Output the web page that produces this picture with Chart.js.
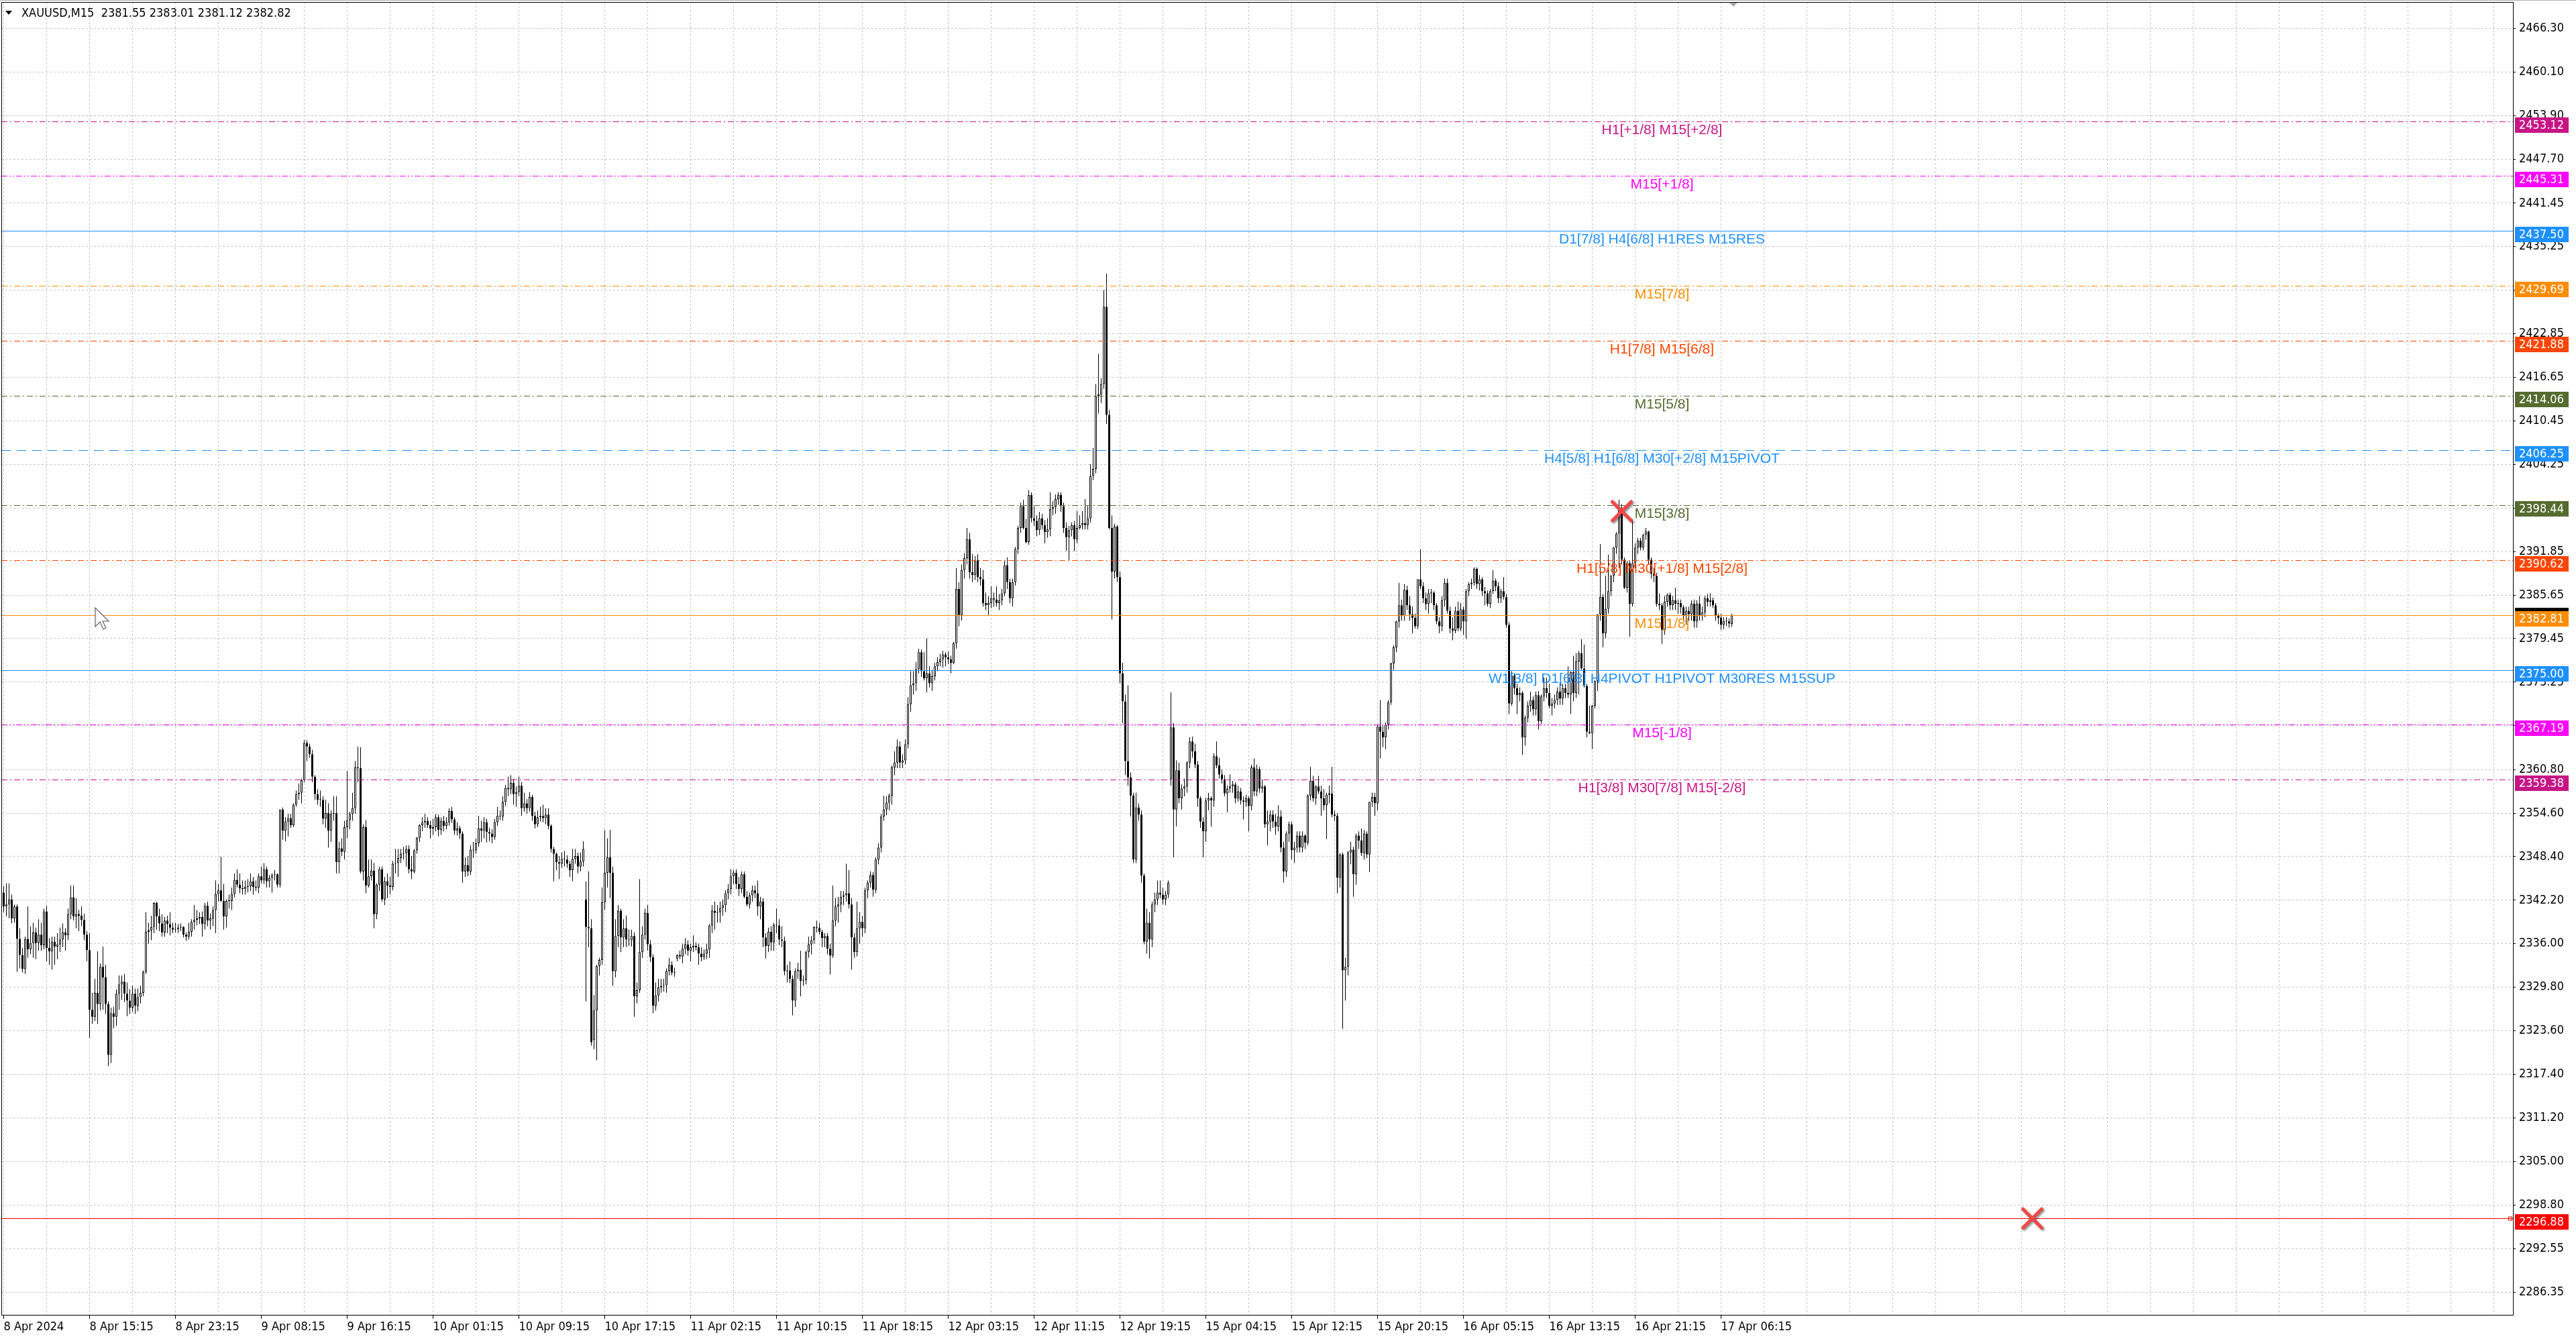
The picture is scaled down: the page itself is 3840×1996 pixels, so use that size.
<!DOCTYPE html>
<html><head><meta charset="utf-8">
<script src="https://cdn.jsdelivr.net/npm/chart.js@4.4.1/dist/chart.umd.min.js"></script>
<style>html,body{margin:0;padding:0;background:#fff;overflow:hidden}canvas{display:block}</style>
</head><body>
<canvas id="c" width="3840" height="1996"></canvas>
<script>
// ---------- DATA ----------
const headerText = 'XAUUSD,M15  2381.55 2383.01 2381.12 2382.82';
const xLabels = ['8 Apr 2024','8 Apr 15:15','8 Apr 23:15','9 Apr 08:15','9 Apr 16:15','10 Apr 01:15','10 Apr 09:15','10 Apr 17:15','11 Apr 02:15','11 Apr 10:15','11 Apr 18:15','12 Apr 03:15','12 Apr 11:15','12 Apr 19:15','15 Apr 04:15','15 Apr 12:15','15 Apr 20:15','16 Apr 05:15','16 Apr 13:15','16 Apr 21:15','17 Apr 06:15'];
const barsPerLabel = 32;
const yTickValues = [2466.30,2460.10,2453.90,2447.70,2441.45,2435.25,2429.05,2422.85,2416.65,2410.45,2404.25,2398.05,2391.85,2385.65,2379.45,2373.25,2367.05,2360.80,2354.60,2348.40,2342.20,2336.00,2329.80,2323.60,2317.40,2311.20,2305.00,2298.80,2292.55,2286.35];
const hiddenYTicks = [2429.05,2398.05,2367.05];

const opens = [
2343.3,2341.3,2341.6,2342.3,2339.6,2341.3,2336.7,2334.4,2332.4,2336.7,
2335.2,2336.1,2337.6,2336.1,2337.3,2335.8,2340.6,2335.4,2334.9,2336.3,
2335.6,2335.9,2336.6,2337.6,2337.2,2340.2,2342.6,2339.9,2340.2,2340.0,
2339.4,2337.3,2335.1,2326.6,2325.6,2329.0,2327.4,2332.7,2331.2,2327.4,
2320.2,2326.1,2325.6,2328.9,2330.2,2330.6,2328.9,2327.9,2326.9,2328.9,
2327.2,2328.4,2329.0,2332.0,2337.7,2337.9,2338.4,2341.8,2339.9,2338.9,
2337.6,2339.3,2338.8,2338.3,2338.0,2338.1,2338.3,2338.4,2337.3,2337.0,
2337.7,2339.1,2339.4,2339.6,2339.8,2338.8,2341.4,2339.3,2339.6,2340.8,
2343.1,2343.6,2342.1,2339.9,2342.1,2342.1,2343.1,2345.1,2344.4,2343.9,
2343.8,2344.1,2344.2,2344.9,2344.1,2344.0,2345.6,2345.0,2346.6,2344.9,
2345.4,2345.8,2345.9,2344.4,2355.1,2352.1,2353.4,2353.9,2352.9,2355.8,
2357.3,2357.5,2359.3,2364.6,2364.1,2363.0,2359.8,2357.3,2356.5,2356.5,
2353.8,2354.6,2352.1,2354.5,2354.6,2347.6,2349.6,2349.1,2352.6,2353.6,
2354.5,2355.3,2361.1,2361.0,2346.3,2352.6,2344.3,2345.6,2346.4,2340.2,
2344.4,2346.6,2342.3,2344.9,2344.3,2344.1,2347.4,2347.5,2348.2,2348.8,
2348.9,2349.5,2346.6,2346.3,2349.3,2351.1,2352.9,2353.3,2353.5,2352.9,
2352.4,2352.6,2354.0,2352.2,2353.5,2352.8,2353.3,2354.9,2353.7,2352.1,
2352.4,2351.7,2346.3,2347.2,2346.3,2349.4,2349.3,2350.3,2352.4,2352.1,
2353.3,2351.9,2351.7,2351.2,2353.3,2354.2,2354.1,2356.2,2358.2,2358.0,
2358.9,2357.3,2357.6,2358.5,2355.3,2356.0,2355.3,2356.9,2354.2,2353.0,
2354.0,2354.2,2353.9,2354.4,2352.8,2349.5,2348.8,2347.6,2347.4,2348.1,
2348.0,2347.4,2346.5,2348.1,2348.5,2347.0,2347.7,2342.3,2338.4,2338.2,
2322.3,2326.5,2332.8,2333.7,2341.9,2346.1,2348.3,2346.1,2332.1,2337.1,
2340.7,2336.9,2338.2,2336.6,2336.5,2337.1,2328.5,2329.4,2334.8,2337.3,
2340.4,2335.9,2334.1,2327.2,2328.6,2329.8,2330.0,2330.1,2332.1,2333.0,
2331.9,2333.9,2334.4,2334.2,2335.3,2335.9,2335.0,2335.5,2335.7,2335.5,
2334.6,2334.1,2334.6,2335.2,2338.6,2340.7,2340.4,2340.5,2341.1,2341.5,
2343.2,2343.8,2345.6,2346.1,2344.5,2343.8,2345.9,2342.7,2341.6,2342.9,
2343.6,2343.2,2341.3,2342.0,2336.9,2335.7,2337.7,2336.2,2338.7,2338.6,
2336.6,2336.4,2332.1,2332.2,2331.0,2327.9,2332.1,2332.3,2330.7,2330.8,
2334.8,2335.9,2336.5,2338.4,2338.3,2337.7,2336.8,2337.1,2335.3,2334.3,
2339.3,2341.3,2341.6,2342.7,2342.9,2343.2,2341.6,2336.9,2334.8,2338.2,
2339.1,2338.2,2343.6,2344.7,2345.8,2343.7,2348.0,2349.7,2354.1,2355.1,
2356.1,2357.1,2361.1,2361.8,2364.1,2361.8,2362.1,2364.4,2370.1,2372.8,
2373.1,2375.1,2377.5,2374.8,2373.8,2374.5,2373.1,2374.1,2375.5,2376.1,
2376.5,2377.2,2376.8,2376.5,2376.0,2378.8,2386.5,2382.8,2389.2,2390.9,
2393.6,2388.9,2388.5,2390.6,2388.2,2387.9,2384.5,2384.2,2384.5,2385.2,
2385.0,2384.5,2384.9,2385.9,2389.9,2387.5,2385.2,2387.5,2392.2,2395.2,
2398.3,2395.2,2393.2,2399.9,2396.6,2396.2,2394.9,2396.6,2395.6,2394.6,
2395.0,2397.9,2398.2,2399.3,2399.9,2398.3,2395.2,2393.9,2394.9,2395.6,
2393.6,2395.2,2395.6,2395.9,2395.6,2396.6,2402.6,2403.6,2414.0,2414.2,
2415.7,2426.7,2411.3,2395.2,2389.0,2395.4,2388.2,2374.5,2370.5,2362.0,
2359.7,2357.1,2348.0,2355.4,2354.4,2345.7,2336.3,2339.0,2336.6,2341.6,
2342.3,2343.3,2343.0,2342.3,2343.0,2359.4,2366.8,2355.1,2360.7,2356.7,
2358.1,2358.4,2361.8,2364.8,2363.4,2361.5,2356.7,2353.4,2352.0,2356.4,
2356.7,2356.4,2362.7,2361.4,2360.1,2359.4,2357.4,2358.1,2358.4,2358.7,
2356.7,2357.7,2356.4,2356.2,2356.7,2355.6,2361.1,2357.7,2360.9,2358.1,
2358.4,2353.0,2353.4,2354.4,2353.4,2352.7,2354.1,2349.7,2346.3,2351.7,
2353.0,2349.3,2349.7,2351.4,2349.7,2351.4,2350.4,2357.1,2359.2,2356.7,
2358.4,2357.7,2356.7,2355.7,2357.2,2357.4,2354.4,2354.2,2345.4,2348.7,
2332.2,2332.7,2349.0,2349.4,2345.9,2351.4,2350.7,2348.9,2351.7,2348.7,
2356.2,2356.9,2356.0,2366.9,2366.2,2365.4,2367.2,2370.4,2375.9,2378.2,
2381.9,2384.2,2382.7,2386.4,2384.2,2382.9,2382.4,2381.2,2387.9,2386.9,
2385.2,2384.4,2385.9,2386.0,2384.2,2381.9,2381.2,2384.9,2387.4,2383.4,
2380.9,2380.6,2383.4,2380.9,2383.6,2381.9,2386.2,2387.2,2387.4,2389.4,
2387.2,2387.9,2386.2,2385.9,2384.4,2386.2,2387.7,2386.9,2385.2,2386.2,
2385.4,2381.4,2370.2,2374.2,2372.4,2371.4,2371.7,2365.4,2368.2,2369.9,
2370.7,2369.4,2371.4,2367.7,2371.2,2372.4,2371.7,2369.9,2370.2,2370.7,
2371.9,2370.9,2372.4,2371.7,2371.5,2374.7,2371.7,2376.2,2377.4,2375.2,
2372.7,2366.2,2366.0,2369.9,2373.4,2382.9,2385.4,2380.2,2383.7,2386.2,
2388.4,2392.4,2394.4,2397.7,2390.7,2386.7,2390.2,2384.4,2390.2,2392.4,
2393.4,2392.4,2394.2,2394.7,2390.7,2388.7,2388.4,2384.4,2384.2,2380.7,
2384.7,2385.7,2384.2,2384.9,2384.4,2384.5,2383.9,2382.7,2383.4,2382.9,
2384.4,2381.9,2384.4,2382.7,2383.2,2385.2,2384.7,2384.9,2384.2,2382.7,
2382.4,2381.4,2381.9,2381.9,2381.55];

const highs = [
2344.2,2344.6,2344.6,2343.0,2341.6,2341.6,2338.2,2335.4,2337.0,2341.3,
2338.5,2339.0,2338.3,2339.5,2339.0,2341.0,2341.4,2336.8,2337.0,2337.0,
2337.5,2338.3,2338.9,2338.2,2341.0,2344.3,2344.3,2342.5,2340.8,2341.3,
2340.3,2337.8,2337.5,2329.0,2331.0,2334.9,2333.2,2335.6,2333.0,2327.8,
2326.9,2327.0,2329.5,2331.5,2331.5,2331.7,2330.5,2329.5,2330.0,2329.6,
2329.6,2330.0,2332.2,2340.5,2339.0,2340.0,2341.9,2342.0,2341.0,2340.2,
2339.8,2340.0,2340.5,2339.0,2339.0,2338.8,2338.9,2338.5,2337.6,2339.0,
2339.5,2341.5,2340.8,2340.5,2340.6,2341.8,2342.0,2340.3,2341.3,2345.0,
2344.5,2348.4,2344.5,2342.3,2343.0,2344.0,2346.0,2346.6,2346.0,2345.0,
2345.0,2345.2,2346.0,2345.5,2345.0,2346.0,2347.0,2347.5,2347.0,2345.8,
2346.0,2346.5,2346.0,2355.1,2355.4,2354.0,2354.5,2354.5,2356.0,2357.8,
2358.8,2359.5,2365.0,2365.0,2364.5,2363.6,2360.0,2358.0,2357.8,2357.0,
2356.5,2356.0,2355.0,2357.0,2357.0,2350.5,2351.0,2353.5,2360.6,2354.8,
2357.5,2362.0,2364.1,2364.0,2353.0,2353.6,2348.0,2348.0,2347.5,2344.6,
2347.0,2347.0,2345.5,2346.0,2345.5,2347.8,2349.5,2349.5,2349.5,2349.8,
2350.0,2350.0,2348.5,2349.5,2351.2,2353.0,2354.0,2354.5,2354.0,2353.5,
2353.8,2354.5,2354.4,2354.0,2354.2,2354.0,2355.3,2355.5,2354.0,2353.3,
2352.8,2352.0,2348.3,2348.5,2350.0,2350.5,2351.0,2354.2,2353.5,2354.0,
2353.8,2352.5,2352.3,2353.8,2355.5,2355.0,2357.0,2358.6,2359.8,2360.0,
2359.5,2358.4,2359.8,2359.0,2357.5,2356.6,2357.6,2357.2,2354.8,2355.0,
2355.5,2355.8,2355.3,2355.3,2353.0,2349.8,2349.0,2348.5,2349.0,2349.2,
2348.6,2347.8,2349.5,2349.5,2349.0,2349.0,2350.6,2344.9,2346.3,2339.5,
2328.7,2333.0,2334.0,2344.0,2352.2,2351.0,2352.2,2347.0,2339.5,2341.5,
2341.0,2339.5,2340.0,2338.0,2338.0,2337.6,2330.5,2345.2,2338.5,2341.0,
2341.5,2336.5,2334.5,2330.5,2331.0,2331.0,2331.0,2332.5,2334.0,2333.5,
2332.6,2334.5,2335.0,2336.0,2336.8,2336.5,2336.0,2337.2,2336.2,2336.0,
2335.5,2335.2,2336.0,2338.8,2341.5,2342.0,2341.5,2342.0,2342.3,2343.6,
2344.5,2346.6,2346.5,2346.6,2345.5,2346.3,2346.3,2343.5,2343.3,2344.3,
2344.3,2345.0,2342.7,2342.5,2337.5,2338.3,2338.5,2339.0,2341.0,2339.5,
2338.5,2337.0,2333.0,2333.5,2331.5,2332.5,2333.3,2335.0,2331.5,2335.0,
2337.0,2337.1,2338.5,2339.3,2339.0,2338.0,2337.5,2337.5,2336.0,2344.3,
2342.5,2342.7,2343.5,2343.5,2347.4,2346.5,2342.5,2337.5,2342.0,2340.5,
2340.0,2344.0,2345.0,2346.3,2346.2,2348.3,2350.3,2354.5,2357.1,2357.0,
2357.4,2361.4,2363.4,2365.1,2364.8,2363.0,2365.1,2371.1,2374.8,2374.8,
2376.1,2378.0,2377.9,2377.5,2379.5,2375.5,2375.0,2376.0,2376.8,2377.3,
2377.7,2377.5,2377.6,2377.0,2379.0,2389.5,2387.5,2390.0,2391.6,2395.2,
2394.5,2391.5,2391.2,2391.5,2389.5,2389.2,2386.0,2385.5,2386.9,2386.0,
2386.9,2385.8,2386.5,2390.5,2391.0,2388.0,2388.0,2392.5,2395.5,2398.8,
2399.2,2396.5,2400.6,2400.3,2398.3,2397.0,2397.5,2397.2,2396.3,2396.6,
2400.3,2399.0,2400.0,2400.3,2400.3,2398.8,2396.0,2395.5,2396.0,2396.2,
2397.6,2397.0,2397.6,2399.3,2398.3,2404.3,2406.6,2415.7,2420.0,2416.5,
2429.1,2431.4,2412.0,2397.0,2395.8,2395.6,2389.0,2376.0,2371.5,2372.8,
2360.4,2357.5,2357.5,2356.0,2355.0,2346.0,2341.0,2340.5,2342.0,2343.3,
2345.0,2345.0,2344.0,2343.5,2345.0,2371.8,2367.4,2362.1,2361.8,2358.7,
2359.5,2362.0,2365.4,2365.5,2364.5,2362.0,2357.0,2354.0,2356.8,2357.5,
2357.0,2363.1,2364.8,2362.5,2360.8,2360.0,2358.5,2360.1,2359.2,2359.0,
2358.5,2358.2,2357.0,2357.2,2357.0,2361.5,2362.4,2361.5,2361.2,2359.4,
2358.6,2355.0,2355.0,2355.0,2354.5,2355.7,2355.0,2350.5,2352.0,2353.4,
2353.4,2350.5,2352.0,2352.0,2352.0,2351.6,2357.3,2361.2,2359.9,2358.6,
2359.9,2358.5,2358.0,2357.5,2358.5,2361.2,2355.0,2354.6,2348.9,2349.0,
2334.0,2349.2,2350.5,2349.8,2351.7,2352.0,2352.4,2352.2,2352.0,2356.2,
2357.5,2357.5,2367.2,2370.7,2367.0,2367.5,2370.7,2376.0,2378.5,2382.0,
2387.4,2385.0,2387.2,2387.0,2385.5,2384.0,2383.0,2387.9,2392.2,2387.5,
2386.0,2386.5,2386.5,2386.2,2384.5,2382.5,2385.5,2388.0,2388.0,2384.0,
2382.5,2384.0,2384.7,2384.5,2384.0,2386.5,2387.5,2388.0,2389.6,2389.6,
2388.5,2388.2,2386.8,2386.3,2386.5,2389.2,2388.0,2387.5,2386.5,2388.2,
2385.8,2381.8,2374.8,2374.5,2373.0,2372.5,2372.0,2368.5,2370.5,2371.9,
2371.2,2371.9,2372.0,2371.5,2373.9,2373.9,2373.0,2371.0,2371.5,2372.5,
2373.2,2373.0,2373.0,2375.5,2374.8,2377.0,2377.4,2377.7,2379.4,2378.6,
2373.0,2369.9,2370.0,2373.5,2382.9,2392.9,2385.8,2388.4,2391.4,2388.5,
2392.5,2394.6,2399.2,2398.6,2391.0,2390.5,2390.5,2396.4,2393.0,2393.8,
2393.8,2394.4,2395.2,2394.8,2391.0,2389.5,2388.8,2385.9,2384.5,2385.5,
2385.9,2386.0,2385.5,2386.7,2385.0,2385.0,2384.2,2384.0,2384.0,2384.9,
2385.0,2384.9,2385.5,2384.0,2385.5,2385.8,2385.9,2385.3,2384.5,2383.0,
2383.0,2382.5,2382.5,2382.3,2383.01];

const lows = [
2340.5,2339.9,2339.6,2338.9,2339.0,2332.0,2332.5,2331.9,2331.7,2334.0,
2334.5,2334.0,2333.8,2335.0,2335.0,2335.2,2333.5,2333.0,2332.3,2333.0,
2333.8,2334.8,2335.5,2335.0,2336.5,2339.5,2339.3,2338.2,2337.8,2338.5,
2336.5,2333.5,2322.6,2324.6,2325.0,2324.6,2326.5,2326.6,2326.0,2318.6,
2319.0,2324.0,2324.3,2326.6,2328.0,2327.7,2325.7,2326.0,2326.3,2326.0,
2326.4,2327.5,2328.5,2331.7,2336.0,2336.5,2337.5,2338.0,2337.8,2337.0,
2337.0,2337.5,2337.2,2337.5,2337.6,2337.5,2337.8,2336.9,2336.4,2336.6,
2337.0,2338.0,2338.6,2338.8,2337.0,2338.0,2338.5,2338.0,2338.5,2337.5,
2342.0,2342.0,2338.0,2338.3,2341.0,2340.8,2342.6,2344.0,2343.2,2343.0,
2343.0,2343.3,2343.5,2343.0,2343.5,2343.2,2344.6,2344.5,2344.0,2344.0,
2343.3,2345.0,2344.0,2344.0,2350.8,2350.6,2351.3,2352.5,2352.6,2355.5,
2356.5,2356.0,2359.0,2362.0,2362.5,2359.0,2356.5,2355.8,2355.5,2353.0,
2352.5,2349.7,2350.5,2353.5,2346.0,2346.0,2348.5,2348.0,2351.0,2352.3,
2353.5,2354.5,2359.0,2346.0,2345.0,2343.2,2344.0,2345.0,2338.2,2339.5,
2343.5,2342.0,2341.5,2342.5,2343.0,2343.6,2346.0,2345.5,2347.5,2348.0,
2347.0,2346.0,2345.2,2346.0,2348.8,2350.5,2352.0,2352.5,2352.5,2351.0,
2351.5,2352.0,2351.3,2351.5,2352.0,2352.3,2352.8,2353.2,2351.5,2351.4,
2350.9,2344.7,2345.5,2345.6,2345.8,2348.2,2348.8,2349.8,2350.5,2351.0,
2350.4,2350.6,2350.3,2350.8,2352.8,2353.6,2353.5,2355.6,2357.0,2357.3,
2355.8,2355.5,2357.0,2354.2,2354.8,2354.5,2354.8,2353.5,2352.4,2352.6,
2353.4,2353.3,2353.0,2352.3,2349.0,2344.9,2346.5,2345.2,2346.8,2347.0,
2346.8,2345.5,2344.9,2347.4,2346.0,2346.3,2347.0,2327.8,2335.5,2321.5,
2321.0,2319.4,2331.5,2333.0,2340.8,2344.0,2342.5,2330.0,2331.2,2335.5,
2334.8,2335.5,2335.5,2335.7,2335.6,2325.6,2327.5,2329.0,2334.0,2336.6,
2335.0,2333.4,2326.1,2326.5,2327.8,2329.0,2329.2,2329.0,2331.5,2331.5,
2331.3,2333.5,2333.8,2333.2,2334.5,2334.3,2333.5,2334.8,2335.0,2333.0,
2333.5,2333.7,2333.8,2334.0,2337.5,2338.0,2339.0,2339.0,2340.0,2340.5,
2342.3,2343.0,2344.5,2343.8,2342.8,2343.2,2342.5,2341.3,2341.0,2342.0,
2342.5,2340.0,2339.5,2335.5,2333.9,2334.8,2335.0,2335.0,2337.5,2335.8,
2335.5,2331.5,2330.5,2330.4,2325.8,2327.0,2331.0,2328.5,2330.0,2330.2,
2334.0,2334.5,2336.0,2337.6,2337.3,2335.5,2335.5,2334.5,2331.6,2334.0,
2338.5,2339.0,2340.5,2341.5,2342.0,2341.0,2332.3,2334.0,2334.2,2336.0,
2337.0,2337.5,2342.5,2344.0,2342.7,2343.2,2347.3,2349.0,2353.5,2354.3,
2355.0,2355.8,2360.0,2361.0,2361.0,2361.0,2361.5,2363.8,2369.0,2371.5,
2372.0,2374.5,2374.0,2373.5,2371.8,2372.5,2372.0,2373.5,2374.8,2375.5,
2375.3,2375.5,2375.8,2374.5,2375.8,2378.0,2381.2,2382.0,2388.0,2390.0,
2388.0,2387.5,2387.8,2387.5,2387.0,2384.0,2383.5,2382.8,2383.8,2384.0,
2384.0,2383.5,2384.2,2385.5,2386.5,2384.5,2384.0,2387.0,2391.5,2394.5,
2395.0,2393.0,2392.8,2396.0,2395.5,2394.0,2394.2,2395.0,2393.0,2393.8,
2394.0,2397.0,2397.2,2398.5,2397.5,2394.5,2391.9,2390.6,2394.0,2391.9,
2393.0,2395.0,2395.0,2395.0,2395.0,2396.0,2402.0,2403.0,2411.5,2413.0,
2415.0,2410.0,2395.0,2382.2,2388.0,2387.5,2373.1,2367.4,2360.0,2358.5,
2354.1,2347.5,2347.5,2353.5,2344.7,2335.9,2334.6,2333.9,2335.5,2340.5,
2341.5,2342.5,2341.6,2341.5,2342.5,2358.5,2348.3,2352.7,2356.0,2355.1,
2357.0,2357.5,2361.0,2362.5,2361.0,2355.5,2352.5,2348.3,2350.5,2355.0,
2352.7,2355.5,2361.0,2359.5,2358.8,2357.0,2354.7,2357.5,2357.5,2356.0,
2356.2,2355.8,2353.7,2355.5,2352.0,2355.0,2357.0,2357.0,2357.5,2357.5,
2352.5,2350.0,2352.0,2352.5,2351.5,2352.0,2349.0,2344.7,2345.5,2350.5,
2348.0,2347.5,2349.0,2349.0,2349.0,2349.5,2350.0,2356.4,2356.2,2355.8,
2357.3,2354.2,2355.0,2350.9,2356.0,2354.0,2353.5,2343.2,2344.0,2323.9,
2327.9,2331.5,2347.3,2342.7,2344.4,2349.5,2348.5,2348.0,2348.2,2346.2,
2355.5,2354.2,2355.0,2362.4,2364.0,2363.7,2366.5,2370.0,2375.0,2377.5,
2381.0,2382.0,2382.0,2383.5,2382.0,2380.2,2380.9,2380.8,2386.5,2384.5,
2383.5,2383.0,2384.5,2383.5,2381.5,2380.2,2380.5,2384.0,2383.0,2380.2,
2379.2,2380.2,2380.5,2380.5,2380.0,2379.4,2385.5,2386.5,2387.0,2386.5,
2386.3,2385.5,2384.2,2384.0,2383.8,2385.8,2386.2,2384.5,2384.5,2385.0,
2381.0,2368.7,2369.9,2371.5,2368.7,2370.5,2362.9,2364.2,2367.5,2369.0,
2368.5,2368.5,2366.5,2367.3,2370.5,2371.0,2369.5,2368.5,2369.5,2370.0,
2370.0,2370.0,2371.0,2371.0,2368.7,2370.5,2371.0,2371.5,2375.0,2372.5,
2365.4,2365.8,2363.7,2369.5,2372.0,2382.0,2378.2,2379.5,2383.0,2385.5,
2387.5,2391.5,2389.5,2390.0,2386.5,2386.0,2379.7,2384.0,2389.5,2391.5,
2392.0,2392.0,2393.5,2390.0,2388.0,2387.5,2384.0,2383.5,2378.7,2380.0,
2384.0,2383.5,2383.5,2383.5,2383.0,2383.0,2382.0,2381.4,2382.0,2382.0,
2381.0,2381.0,2382.0,2382.0,2382.5,2384.0,2384.0,2383.8,2382.0,2381.5,
2380.7,2380.8,2381.2,2381.0,2381.12];

const closes = [
2341.3,2341.6,2342.3,2339.6,2341.3,2336.7,2334.4,2332.4,2336.7,2335.2,
2336.1,2337.6,2336.1,2337.3,2335.8,2340.6,2335.4,2334.9,2336.3,2335.6,
2335.9,2336.6,2337.6,2337.2,2340.2,2342.6,2339.9,2340.2,2340.0,2339.4,
2337.3,2335.1,2326.6,2325.6,2329.0,2327.4,2332.7,2331.2,2327.4,2320.2,
2326.1,2325.6,2328.9,2330.2,2330.6,2328.9,2327.9,2326.9,2328.9,2327.2,
2328.4,2329.0,2332.0,2337.7,2337.9,2338.4,2341.8,2339.9,2338.9,2337.6,
2339.3,2338.8,2338.3,2338.0,2338.1,2338.3,2338.4,2337.3,2337.0,2337.7,
2339.1,2339.4,2339.6,2339.8,2338.8,2341.4,2339.3,2339.6,2340.8,2343.1,
2343.6,2342.1,2339.9,2342.1,2342.1,2343.1,2345.1,2344.4,2343.9,2343.8,
2344.1,2344.2,2344.9,2344.1,2344.0,2345.6,2345.0,2346.6,2344.9,2345.4,
2345.8,2345.9,2344.4,2355.1,2352.1,2353.4,2353.9,2352.9,2355.8,2357.3,
2357.5,2359.3,2364.6,2364.1,2363.0,2359.8,2357.3,2356.5,2356.5,2353.8,
2354.6,2352.1,2354.5,2354.6,2347.6,2349.6,2349.1,2352.6,2353.6,2354.5,
2355.3,2361.1,2361.0,2346.3,2352.6,2344.3,2345.6,2346.4,2340.2,2344.4,
2346.6,2342.3,2344.9,2344.3,2344.1,2347.4,2347.5,2348.2,2348.8,2348.9,
2349.5,2346.6,2346.3,2349.3,2351.1,2352.9,2353.3,2353.5,2352.9,2352.4,
2352.6,2354.0,2352.2,2353.5,2352.8,2353.3,2354.9,2353.7,2352.1,2352.4,
2351.7,2346.3,2347.2,2346.3,2349.4,2349.3,2350.3,2352.4,2352.1,2353.3,
2351.9,2351.7,2351.2,2353.3,2354.2,2354.1,2356.2,2358.2,2358.0,2358.9,
2357.3,2357.6,2358.5,2355.3,2356.0,2355.3,2356.9,2354.2,2353.0,2354.0,
2354.2,2353.9,2354.4,2352.8,2349.5,2348.8,2347.6,2347.4,2348.1,2348.0,
2347.4,2346.5,2348.1,2348.5,2347.0,2347.7,2349.5,2338.4,2338.2,2322.0,
2326.5,2332.8,2333.7,2341.9,2346.1,2348.3,2346.1,2332.1,2337.1,2340.7,
2336.9,2338.2,2336.6,2336.5,2337.1,2328.5,2329.4,2334.8,2337.3,2340.4,
2335.9,2334.1,2327.2,2328.6,2329.8,2330.0,2330.1,2332.1,2333.0,2331.9,
2331.9,2334.4,2334.2,2335.3,2335.9,2335.0,2335.5,2335.7,2335.5,2334.6,
2334.1,2334.6,2335.2,2338.6,2340.7,2340.4,2340.5,2341.1,2341.5,2343.2,
2343.8,2345.6,2346.1,2344.5,2343.8,2345.9,2342.7,2341.6,2342.9,2343.6,
2343.2,2341.3,2342.0,2336.9,2335.7,2337.7,2336.2,2338.7,2338.6,2336.6,
2336.4,2332.1,2332.2,2331.0,2327.9,2332.1,2332.3,2330.7,2330.8,2334.8,
2335.9,2336.5,2338.4,2338.3,2337.7,2336.8,2337.1,2335.3,2334.3,2339.3,
2341.3,2341.6,2342.7,2342.9,2343.2,2341.6,2336.9,2334.8,2338.2,2339.1,
2338.2,2343.6,2344.7,2345.8,2343.7,2348.0,2349.7,2354.1,2355.1,2356.1,
2357.1,2361.1,2361.8,2364.1,2361.8,2362.1,2364.4,2370.1,2372.8,2373.1,
2375.1,2377.5,2374.8,2373.8,2374.5,2373.1,2374.1,2375.5,2376.1,2376.5,
2377.2,2376.8,2376.5,2376.0,2378.8,2386.5,2382.8,2389.2,2390.9,2393.6,
2388.9,2388.5,2390.6,2388.2,2387.9,2384.5,2384.2,2384.5,2385.2,2385.0,
2384.5,2384.9,2385.9,2389.9,2387.5,2385.2,2387.5,2392.2,2395.2,2398.3,
2395.2,2393.2,2399.9,2396.6,2396.2,2394.9,2396.6,2395.6,2394.6,2395.0,
2397.9,2398.2,2399.3,2399.9,2398.3,2395.2,2393.9,2394.9,2395.6,2393.6,
2395.2,2395.6,2395.9,2395.6,2396.6,2402.6,2403.6,2414.0,2414.2,2415.7,
2426.7,2411.3,2395.2,2389.0,2395.4,2388.2,2374.5,2370.5,2362.0,2359.7,
2357.1,2348.0,2355.4,2354.4,2345.7,2336.3,2339.0,2336.6,2341.6,2342.3,
2343.3,2343.0,2342.3,2343.0,2344.7,2366.8,2355.1,2360.7,2356.7,2358.1,
2358.4,2361.8,2364.8,2363.4,2361.5,2356.7,2353.4,2352.0,2356.4,2356.7,
2356.4,2362.7,2361.4,2360.1,2359.4,2357.4,2358.1,2358.4,2358.7,2356.7,
2357.7,2356.4,2356.2,2356.7,2355.6,2361.1,2357.7,2360.9,2358.1,2358.4,
2353.0,2353.4,2354.4,2353.4,2352.7,2354.1,2349.7,2346.3,2351.7,2353.0,
2349.3,2349.7,2351.4,2349.7,2351.4,2350.4,2357.1,2359.2,2356.7,2358.4,
2357.7,2356.7,2355.7,2357.2,2357.4,2354.4,2354.2,2345.4,2348.7,2332.2,
2332.7,2349.0,2349.4,2345.9,2351.4,2350.7,2348.9,2351.7,2348.7,2356.2,
2356.9,2356.0,2366.9,2366.2,2365.4,2367.2,2370.4,2375.9,2378.2,2381.9,
2384.2,2382.7,2386.4,2384.2,2382.9,2382.4,2381.2,2387.9,2386.9,2385.2,
2384.4,2385.9,2386.0,2384.2,2381.9,2381.2,2384.9,2387.4,2383.4,2380.9,
2380.6,2383.4,2380.9,2383.6,2381.9,2386.2,2387.2,2387.4,2389.4,2387.2,
2387.9,2386.2,2385.9,2384.4,2386.2,2387.7,2386.9,2385.2,2386.2,2385.4,
2381.4,2370.2,2374.2,2372.4,2371.4,2371.7,2365.4,2368.2,2369.9,2370.7,
2369.4,2371.4,2367.7,2371.2,2372.4,2371.7,2369.9,2370.2,2370.7,2371.9,
2370.9,2372.4,2371.7,2371.5,2374.7,2371.7,2376.2,2377.4,2375.2,2372.7,
2366.2,2366.0,2369.9,2373.4,2382.9,2385.4,2380.2,2383.7,2386.2,2388.4,
2392.4,2394.4,2397.7,2390.7,2386.7,2390.2,2384.4,2390.2,2392.4,2393.4,
2392.4,2394.2,2394.7,2390.7,2388.7,2388.4,2384.4,2384.2,2380.7,2384.7,
2385.7,2384.2,2384.9,2384.4,2384.5,2383.9,2382.7,2383.4,2382.9,2384.4,
2381.9,2384.4,2382.7,2383.2,2385.2,2384.7,2384.9,2384.2,2382.7,2382.4,
2381.4,2381.9,2381.9,2381.6,2382.82];

// horizontal levels (price, colour, line style, caption)
const levelPrices = [2453.12,2445.31,2437.50,2429.69,2421.88,2414.06,2406.25,2398.44,2390.62,2382.81,2375.00,2367.19,2359.38,2296.88];
const levelColors = ['#C71585','#FF00FF','#1E90FF','#FF8C00','#FF4500','#556B2F','#1E90FF','#556B2F','#FF4500','#FF8C00','#1E90FF','#FF00FF','#C71585','#FF0000'];
const levelStyles = ['dashdot','dashdotdot','solid','dashdot','dashdot','dashdot','dash','dashdot','dashdot','solid','solid','dashdotdot','dashdot','solid'];
const levelTexts = ['H1[+1/8] M15[+2/8]','M15[+1/8]','D1[7/8] H4[6/8] H1RES M15RES','M15[7/8]','H1[7/8] M15[6/8]','M15[5/8]','H4[5/8] H1[6/8] M30[+2/8] M15PIVOT','M15[3/8]','H1[5/8] M30[+1/8] M15[2/8]','M15[1/8]','W1[3/8] D1[6/8] H4PIVOT H1PIVOT M30RES M15SUP','M15[-1/8]','H1[3/8] M30[7/8] M15[-2/8]',''];
const levelLabelBar = 618;
const bidPrice = 2382.82;
const crossBars = [603, 756];
const crossPrices = [2397.6, 2296.9];

// ---------- CHART ----------
const axisFont = "'DejaVu Sans Condensed','DejaVu Sans',sans-serif";
const gridColor = '#c4c4c4';
const dashes = {solid: [], dash: [14, 9], dashdot: [9, 4, 2, 4], dashdotdot: [9, 3, 2, 3, 2, 3]};
const idx = opens.map((_, i) => i);
const wickData = idx.map(i => ({x: i, y: [Math.min(lows[i], opens[i], closes[i]), Math.max(highs[i], opens[i], closes[i])]}));
const bodyData = idx.map(i => ({x: i, y: [opens[i], closes[i]]}));
const bodyFill = idx.map(i => closes[i] >= opens[i] ? '#ffffff' : '#000000');
const xGridBars = [];
for (let v = 0; v <= 928; v += barsPerLabel / 2) xGridBars.push(v);

const bgPlugin = {
  id: 'bg',
  beforeDraw(chart) {
    const c = chart.ctx;
    c.save(); c.fillStyle = '#ffffff'; c.fillRect(0, 0, chart.width, chart.height); c.restore();
  }
};

const overlayPlugin = {
  id: 'overlay',
  afterDatasetsDraw(chart) {
    const {ctx: c, chartArea: a, scales: {x, y}} = chart;
    c.save();
    c.beginPath(); c.rect(a.left, a.top, a.right - a.left, a.bottom - a.top); c.clip();
    levelPrices.forEach((p, i) => {
      const py = Math.round(y.getPixelForValue(p)) + 0.5;
      c.strokeStyle = levelColors[i]; c.lineWidth = 1;
      c.setLineDash(dashes[levelStyles[i]]);
      c.beginPath(); c.moveTo(a.left, py); c.lineTo(a.right, py); c.stroke();
    });
    c.setLineDash([]);
    c.font = "21px 'Liberation Sans', Arial, sans-serif";
    c.textAlign = 'center'; c.textBaseline = 'alphabetic';
    const lx = x.getPixelForValue(levelLabelBar);
    levelTexts.forEach((t, i) => {
      if (!t) return;
      const py = Math.round(y.getPixelForValue(levelPrices[i]));
      c.fillStyle = levelColors[i];
      c.fillText(t, lx, py + 19);
    });
    // red end marker of the lower line
    const ry = Math.round(y.getPixelForValue(levelPrices[13])) + 0.5;
    c.strokeStyle = '#FF0000'; c.lineWidth = 1;
    c.strokeRect(a.right - 6.5, ry - 2.5, 5, 5);
    // red crosses
    crossBars.forEach((b, i) => {
      const cx = x.getPixelForValue(b), cy = y.getPixelForValue(crossPrices[i]);
      c.save();
      c.shadowColor = 'rgba(0,0,0,0.45)'; c.shadowBlur = 3; c.shadowOffsetX = 2; c.shadowOffsetY = 2;
      c.strokeStyle = '#F04848'; c.lineWidth = 5; c.lineCap = 'round';
      c.beginPath();
      c.moveTo(cx - 14, cy - 14); c.lineTo(cx + 14, cy + 14);
      c.moveTo(cx + 14, cy - 14); c.lineTo(cx - 14, cy + 14);
      c.stroke();
      c.restore();
    });
    c.restore();
  },
  afterDraw(chart) {
    const {ctx: c, chartArea: a, scales: {y}} = chart;
    c.save();
    // frame
    c.strokeStyle = '#000'; c.lineWidth = 1;
    c.strokeRect(a.left + 0.5, a.top + 0.5, a.right - a.left, a.bottom - a.top);
    c.strokeStyle = '#b0b0b0';
    c.beginPath(); c.moveTo(0, 0.5); c.lineTo(chart.width, 0.5); c.stroke();
    // price tags
    c.font = '18px ' + axisFont;
    c.textAlign = 'left'; c.textBaseline = 'middle';
    const tagX = a.right + 3, tagW = 80;
    const by = Math.round(y.getPixelForValue(bidPrice));
    c.fillStyle = '#000'; c.fillRect(tagX, by - 11, tagW, 22);
    levelPrices.forEach((p, i) => {
      const py = Math.round(y.getPixelForValue(p));
      c.fillStyle = levelColors[i];
      c.fillRect(tagX, py - 6, tagW, 23);
      c.fillStyle = '#fff';
      c.fillText(p.toFixed(2), tagX + 6, py + 6);
    });
    // header
    c.fillStyle = '#000';
    c.beginPath(); c.moveTo(8, 16); c.lineTo(18, 16); c.lineTo(13, 22); c.closePath(); c.fill();
    c.fillText(headerText, 32, 20);
    // chart shift marker
    c.fillStyle = '#a8a8a8';
    c.beginPath(); c.moveTo(2578, 4); c.lineTo(2590, 4); c.lineTo(2584, 10); c.closePath(); c.fill();
    // mouse pointer
    c.translate(142, 906);
    c.beginPath();
    c.moveTo(0, 0); c.lineTo(0, 28); c.lineTo(7, 21); c.lineTo(12, 32); c.lineTo(16, 30);
    c.lineTo(11, 20); c.lineTo(20, 20); c.closePath();
    c.fillStyle = '#fff'; c.fill(); c.strokeStyle = '#606060'; c.lineWidth = 1.2; c.stroke();
    c.restore();
  }
};

new Chart(document.getElementById('c').getContext('2d'), {
  type: 'bar',
  data: {
    datasets: [
      {label: 'body', data: bodyData, backgroundColor: bodyFill, borderColor: '#000', borderWidth: 1,
       borderSkipped: false, barThickness: 3, grouped: false, order: 1, minBarLength: 1, inflateAmount: 0},
      {label: 'wick', data: wickData, backgroundColor: '#000', borderWidth: 0,
       barThickness: 1, grouped: false, order: 2, minBarLength: 1, inflateAmount: 0}
    ]
  },
  options: {
    responsive: false, animation: false, devicePixelRatio: 1,
    layout: {padding: {left: 2, top: 3, right: 0, bottom: 0}},
    plugins: {legend: {display: false}, tooltip: {enabled: false}},
    scales: {
      x: {
        type: 'linear', position: 'bottom', min: -0.875, max: 935.125, bounds: 'data', offset: false,
        afterBuildTicks: s => { s.ticks = xGridBars.map(v => ({value: v})); },
        afterFit: s => { s.height = 36; s.paddingLeft = 0; s.paddingRight = 0; },
        grid: {offset: false, color: gridColor, lineWidth: 1, drawTicks: true, tickLength: 6,
          tickColor: ctx => (ctx.tick && ctx.tick.value % barsPerLabel === 0 && ctx.tick.value / barsPerLabel < xLabels.length) ? '#000' : 'rgba(0,0,0,0)'},
        border: {display: false, dash: [3, 3]},
        ticks: {autoSkip: false, maxRotation: 0, minRotation: 0, align: 'start', padding: 2, color: '#000',
          font: {family: axisFont, size: 18},
          callback: v => (v % barsPerLabel === 0 && v / barsPerLabel < xLabels.length) ? xLabels[v / barsPerLabel] : ''}
      },
      y: {
        type: 'linear', position: 'right', min: 2283.16, max: 2470.09, bounds: 'data',
        afterBuildTicks: s => { s.ticks = yTickValues.map(v => ({value: v})); },
        afterFit: s => { s.width = 94; s.paddingTop = 0; s.paddingBottom = 0; },
        grid: {color: gridColor, lineWidth: 1, drawTicks: true, tickLength: 4, tickColor: '#000'},
        border: {display: false, dash: [3, 3]},
        ticks: {autoSkip: false, padding: 5, color: '#000', font: {family: axisFont, size: 18},
          callback: v => hiddenYTicks.includes(v) ? '' : Number(v).toFixed(2)}
      }
    }
  },
  plugins: [bgPlugin, overlayPlugin]
});
</script>
</body></html>
